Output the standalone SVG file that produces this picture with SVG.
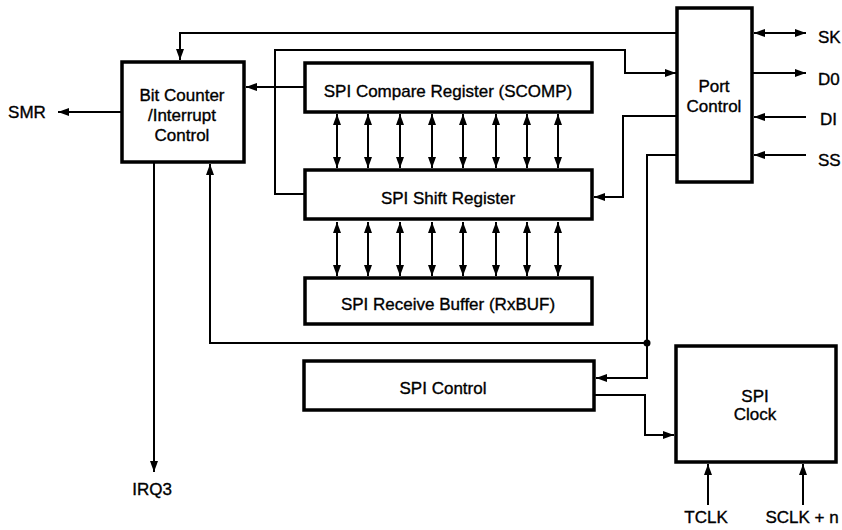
<svg xmlns="http://www.w3.org/2000/svg" width="842" height="530" viewBox="0 0 842 530">
<style>
.box{fill:#fff;stroke:#000;stroke-width:3.5}
.ln{fill:none;stroke:#000;stroke-width:2}
.t{font-family:"Liberation Sans",Arial,sans-serif;font-size:17px;fill:#000;stroke:#000;stroke-width:0.35;text-anchor:middle}
.l{font-family:"Liberation Sans",Arial,sans-serif;font-size:17px;fill:#000;stroke:#000;stroke-width:0.35}
</style>
<defs>
<marker id="ah" markerUnits="userSpaceOnUse" markerWidth="12" markerHeight="10" refX="11" refY="5" orient="auto">
<path d="M0,1 L11,5 L0,9 Z" fill="#000"/>
</marker>
<marker id="as" markerUnits="userSpaceOnUse" markerWidth="12" markerHeight="10" refX="1" refY="5" orient="auto">
<path d="M12,1 L1,5 L12,9 Z" fill="#000"/>
</marker>
</defs>
<rect width="842" height="530" fill="#fff"/>
<g id="connectors">
<path class="ln" d="M677,33 H180 V60" marker-end="url(#ah)"/>
<path class="ln" d="M305,194 H275 V50 H625 V73 H676" marker-end="url(#ah)"/>
<path class="ln" d="M304,87 H246" marker-end="url(#ah)"/>
<path class="ln" d="M677,116 H623 V197 H594" marker-end="url(#ah)"/>
<path class="ln" d="M677,155 H647 V378 H596" marker-end="url(#ah)"/>
<path class="ln" d="M647,343 H210 V164" marker-end="url(#ah)"/>
<circle cx="647" cy="343" r="3.5" fill="#000"/>
<path class="ln" d="M154,162 V472" marker-end="url(#ah)"/>
<path class="ln" d="M121,112 H58" marker-end="url(#ah)"/>
<path class="ln" d="M595,395 H645 V435 H674" marker-end="url(#ah)"/>
<path class="ln" d="M708,505 V464" marker-end="url(#ah)"/>
<path class="ln" d="M803,505 V464" marker-end="url(#ah)"/>
<path class="ln" d="M754,33 H806" marker-start="url(#as)" marker-end="url(#ah)"/>
<path class="ln" d="M752,73 H806" marker-end="url(#ah)"/>
<path class="ln" d="M806,117 H754" marker-end="url(#ah)"/>
<path class="ln" d="M806,155 H754" marker-end="url(#ah)"/>
<g id="bus1">
<path class="ln" d="M337,114 V168" marker-start="url(#as)" marker-end="url(#ah)"/>
<path class="ln" d="M368,114 V168" marker-start="url(#as)" marker-end="url(#ah)"/>
<path class="ln" d="M400,114 V168" marker-start="url(#as)" marker-end="url(#ah)"/>
<path class="ln" d="M432,114 V168" marker-start="url(#as)" marker-end="url(#ah)"/>
<path class="ln" d="M463,114 V168" marker-start="url(#as)" marker-end="url(#ah)"/>
<path class="ln" d="M496,114 V168" marker-start="url(#as)" marker-end="url(#ah)"/>
<path class="ln" d="M527,114 V168" marker-start="url(#as)" marker-end="url(#ah)"/>
<path class="ln" d="M558,114 V168" marker-start="url(#as)" marker-end="url(#ah)"/>
</g>
<g id="bus2">
<path class="ln" d="M337,222 V276" marker-start="url(#as)" marker-end="url(#ah)"/>
<path class="ln" d="M368,222 V276" marker-start="url(#as)" marker-end="url(#ah)"/>
<path class="ln" d="M400,222 V276" marker-start="url(#as)" marker-end="url(#ah)"/>
<path class="ln" d="M432,222 V276" marker-start="url(#as)" marker-end="url(#ah)"/>
<path class="ln" d="M463,222 V276" marker-start="url(#as)" marker-end="url(#ah)"/>
<path class="ln" d="M496,222 V276" marker-start="url(#as)" marker-end="url(#ah)"/>
<path class="ln" d="M527,222 V276" marker-start="url(#as)" marker-end="url(#ah)"/>
<path class="ln" d="M558,222 V276" marker-start="url(#as)" marker-end="url(#ah)"/>
</g>
</g>
<g id="bitcounter">
<rect class="box" x="122" y="62" width="122" height="100"/>
<text class="t" x="182" y="101">Bit Counter</text>
<text class="t" x="182" y="121">/Interrupt</text>
<text class="t" x="182" y="141">Control</text>
</g>
<g id="scomp">
<rect class="box" x="305" y="63" width="287" height="49"/>
<text class="t" x="448" y="97">SPI Compare Register (SCOMP)</text>
</g>
<g id="shift">
<rect class="box" x="305" y="170" width="287" height="49"/>
<text class="t" x="448" y="204">SPI Shift Register</text>
</g>
<g id="rxbuf">
<rect class="box" x="305" y="278" width="287" height="46"/>
<text class="t" x="448" y="310">SPI Receive Buffer (RxBUF)</text>
</g>
<g id="spicontrol">
<rect class="box" x="304" y="361" width="290" height="49"/>
<text class="t" x="443" y="394">SPI Control</text>
</g>
<g id="portcontrol">
<rect class="box" x="677" y="8" width="75" height="174"/>
<text class="t" x="714" y="92">Port</text>
<text class="t" x="714" y="112">Control</text>
</g>
<g id="spiclock">
<rect class="box" x="676" y="346" width="160" height="116"/>
<text class="t" x="755" y="402">SPI</text>
<text class="t" x="755" y="420">Clock</text>
</g>
<g id="labels">
<text class="t" x="27" y="118">SMR</text>
<text class="t" x="152" y="495">IRQ3</text>
<text class="t" x="706" y="523">TCLK</text>
<text class="t" x="802" y="523">SCLK + n</text>
<text class="l" x="818" y="43">SK</text>
<text class="l" x="818" y="85">D0</text>
<text class="l" x="820" y="125">DI</text>
<text class="l" x="818" y="166">SS</text>
</g>
</svg>
